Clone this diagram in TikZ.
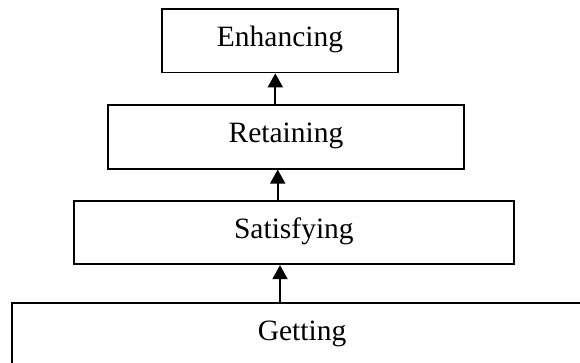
\documentclass[tikz,border=0pt]{standalone}
\usepackage{fontspec}
\setmainfont{Liberation Serif}
\usetikzlibrary{arrows.meta}

\begin{document}
\begin{tikzpicture}[
    x=1pt, y=-1pt,
    level/.style={draw, line width=1.8pt, inner sep=0pt,
      minimum height=63.5pt, text height=19pt, text depth=7pt,
      font=\fontsize{29.5}{35}\selectfont},
    uparrow/.style={line width=1.9pt,
      -{Triangle[width=15pt,length=14pt]}}
  ]
  \useasboundingbox (0,0) rectangle (580,362);
  \clip (0,0) rectangle (580,362);

  % the four stages, bottom one runs past the frame
  \node[level, minimum width=235.7pt] (enh) at (280,40.7)  {Enhancing};
  \node[level, minimum width=355.7pt] (ret) at (286,136.9) {Retaining};
  \node[level, minimum width=440.3pt] (sat) at (293.9,232.5) {Satisfying};
  \node[level, minimum width=580pt]   (get) at (302,334.5) {Getting};

  % arrow columns
  \coordinate (c1) at (275.3,0);
  \coordinate (c2) at (277.7,0);
  \coordinate (c3) at (280,0);

  \draw[uparrow] (ret.north -| c1) -- (enh.south -| c1);
  \draw[uparrow] (sat.north -| c2) -- (ret.south -| c2);
  \draw[uparrow] (get.north -| c3) -- (sat.south -| c3);
\end{tikzpicture}
\end{document}
